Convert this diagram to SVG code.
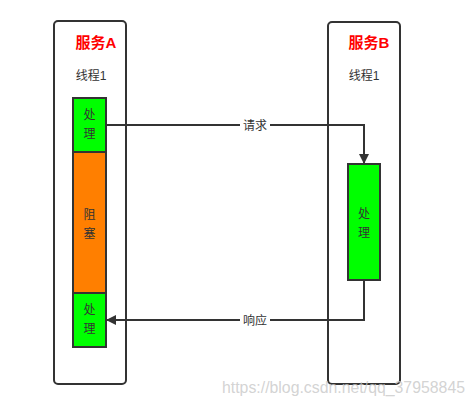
<svg xmlns="http://www.w3.org/2000/svg" width="474" height="407" viewBox="0 0 474 407">
<style>
.box{fill:#fff;stroke:#333;stroke-width:2}
.blk{stroke:#333;stroke-width:2}
.g{fill:#00ff00}
.o{fill:#ff7f00}
.t{font-family:"Liberation Sans","Noto Sans CJK SC",sans-serif;font-size:12px;fill:#333;text-anchor:middle}
.title{font-family:"Liberation Sans","Noto Sans CJK SC",sans-serif;font-size:15px;font-weight:bold;fill:#ff0000;text-anchor:middle}
.edge{fill:none;stroke:#333;stroke-width:2}
.lbl{font-family:"Liberation Sans","Noto Sans CJK SC",sans-serif;font-size:12px;fill:#333;text-anchor:middle}
.wm{font-family:"Liberation Sans",sans-serif;font-size:16px;fill:#c8c8c8;fill-opacity:0.8}
</style>
<defs>
<marker id="arr" viewBox="0 0 10 10" refX="9" refY="5" markerWidth="5" markerHeight="5" orient="auto" markerUnits="strokeWidth">
<path d="M0,0 L10,5 L0,10 Z" fill="#333"/>
</marker>
</defs>
<rect width="474" height="407" fill="#fff"/>
<g id="serviceA">
<rect class="box" x="54" y="21" width="72" height="363" rx="4"/>
<text class="title" x="96" y="48">服务A</text>
<text class="t" x="91" y="80">线程1</text>
</g>
<g id="serviceB">
<rect class="box" x="328" y="22" width="72" height="362" rx="4"/>
<text class="title" x="369" y="48">服务B</text>
<text class="t" x="364" y="80">线程1</text>
</g>
<g id="a-process1">
<rect class="blk g" x="73" y="98" width="33" height="54"/>
<text class="t" x="89.5" y="119">处</text>
<text class="t" x="89.5" y="138">理</text>
</g>
<g id="a-block">
<rect class="blk o" x="73" y="152" width="33" height="141"/>
<text class="t" x="89.5" y="219">阻</text>
<text class="t" x="89.5" y="238">塞</text>
</g>
<g id="a-process2">
<rect class="blk g" x="73" y="293" width="33" height="54"/>
<text class="t" x="89.5" y="314">处</text>
<text class="t" x="89.5" y="333">理</text>
</g>
<g id="b-process">
<rect class="blk g" x="348" y="164" width="32" height="116"/>
<text class="t" x="364" y="218">处</text>
<text class="t" x="364" y="237">理</text>
</g>
<g id="connectors">
<path class="edge" d="M106,125 H364 V163" marker-end="url(#arr)"/>
<rect x="240" y="117" width="30" height="16" fill="#fff"/>
<text class="lbl" x="255" y="129.5">请求</text>
<path class="edge" d="M364,280 V320 H107" marker-end="url(#arr)"/>
<rect x="240" y="312" width="30" height="16" fill="#fff"/>
<text class="lbl" x="255" y="324.5">响应</text>
</g>
<text class="wm" x="222" y="393" textLength="243" lengthAdjust="spacingAndGlyphs">https://blog.csdn.net/qq_37958845</text>
</svg>
